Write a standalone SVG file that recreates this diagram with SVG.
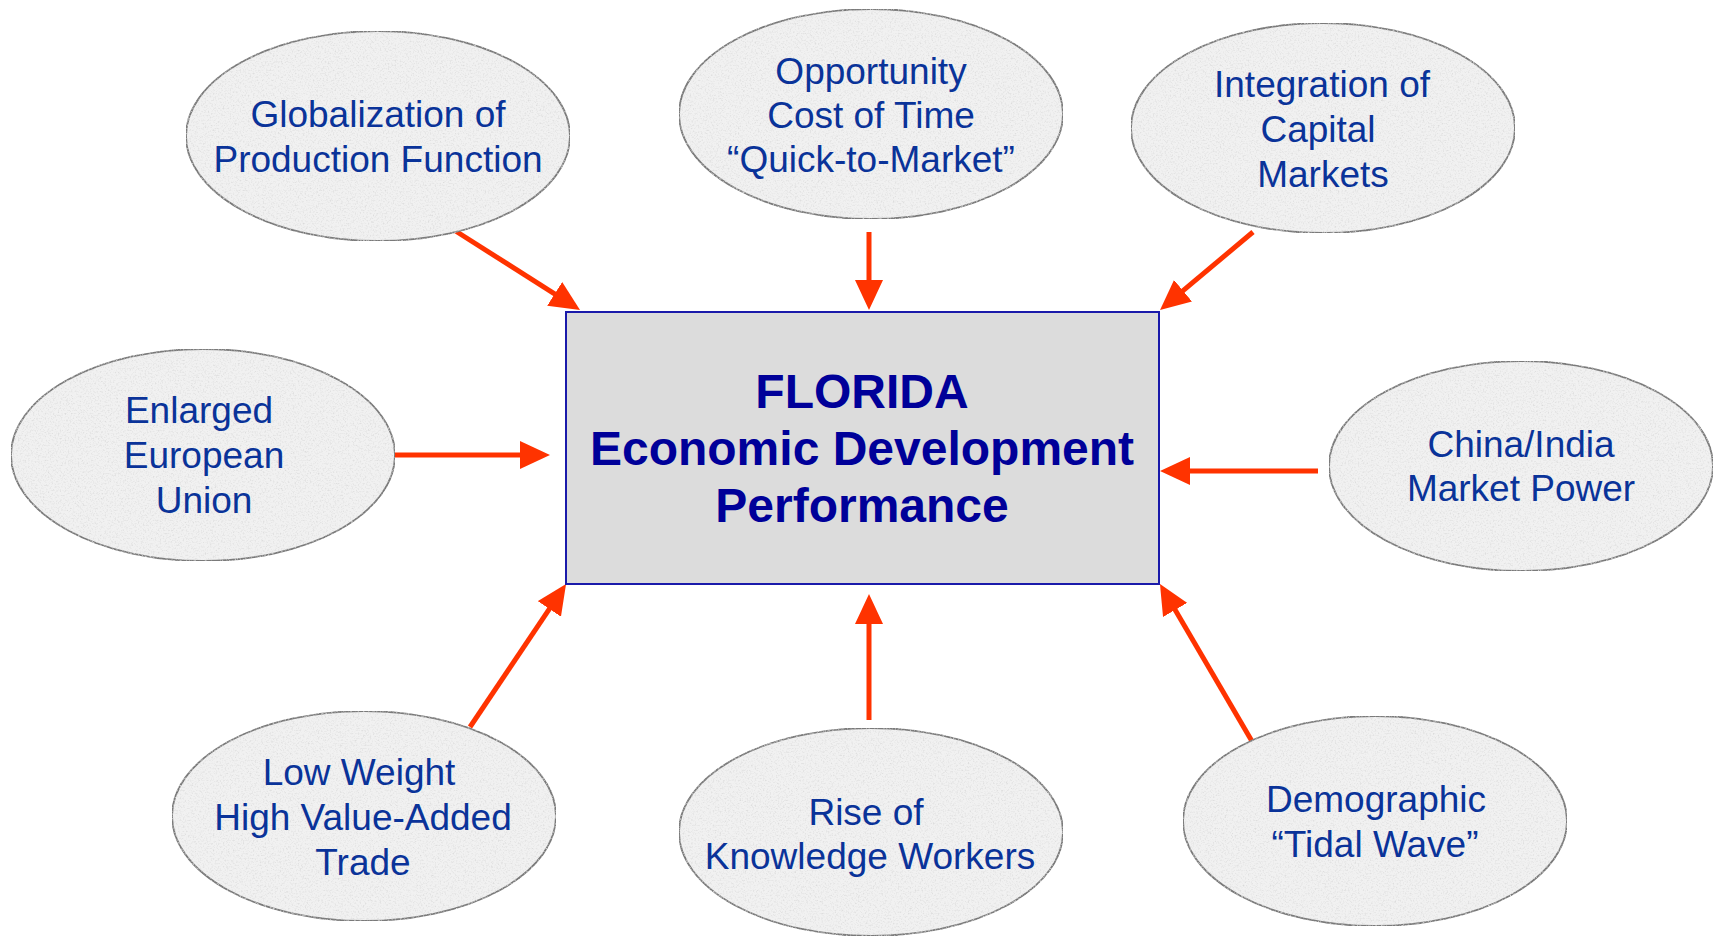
<svg xmlns="http://www.w3.org/2000/svg" width="1717" height="937" viewBox="0 0 1717 937">
<style>
.oval{fill:#f1f1f1;stroke:#7a7a7a;stroke-width:1.8;filter:url(#granite)}
.lbl{font-family:"Liberation Sans",Arial,sans-serif;font-size:37px;fill:#0a3399;text-anchor:middle}
.title{font-family:"Liberation Sans",Arial,sans-serif;font-size:48px;font-weight:bold;fill:#000099;text-anchor:middle}
.arr{stroke:#ff3300;stroke-width:5;fill:none;marker-end:url(#head)}
</style>
<defs>
<filter id="granite" x="0" y="0" width="1" height="1">
<feTurbulence type="fractalNoise" baseFrequency="0.6" numOctaves="3" seed="7" result="n"/>
<feColorMatrix in="n" type="matrix" values="0 0 0 0 0.7  0 0 0 0 0.7  0 0 0 0 0.7  2.2 0 0 0 -1.05" result="spots"/>
<feComposite in="spots" in2="SourceGraphic" operator="atop"/>
</filter>
<marker id="head" markerUnits="userSpaceOnUse" markerWidth="30" markerHeight="28" refX="5" refY="14" orient="auto">
<path d="M0,0 L30,14 L0,28 z" fill="#ff3300"/>
</marker>
</defs>
<rect width="1717" height="937" fill="#ffffff"/>

<g id="connectors">
<line class="arr" x1="454" y1="230" x2="558.9" y2="296.6"/>
<line class="arr" x1="869" y1="232" x2="869" y2="285"/>
<line class="arr" x1="1253" y1="232" x2="1179.2" y2="293.9"/>
<line class="arr" x1="391" y1="455" x2="525" y2="455"/>
<line class="arr" x1="1318" y1="471" x2="1185" y2="471"/>
<line class="arr" x1="470" y1="727" x2="552.1" y2="604.8"/>
<line class="arr" x1="869" y1="720" x2="869" y2="619"/>
<line class="arr" x1="1253" y1="743" x2="1172.6" y2="605.6"/>
</g>

<g id="center">
<rect x="566" y="312" width="593" height="272" fill="#dcdcdc" stroke="#1a1aaa" stroke-width="2"/>
<text class="title" x="862" y="408">FLORIDA</text>
<text class="title" x="862" y="465">Economic Development</text>
<text class="title" x="862" y="522">Performance</text>
</g>

<g id="globalization">
<ellipse class="oval" cx="378" cy="136" rx="192" ry="105"/>
<text class="lbl" x="378" y="127">Globalization of</text>
<text class="lbl" x="378" y="172">Production Function</text>
</g>

<g id="opportunity">
<ellipse class="oval" cx="871" cy="114" rx="192" ry="105"/>
<text class="lbl" x="871" y="84">Opportunity</text>
<text class="lbl" x="871" y="128">Cost of Time</text>
<text class="lbl" x="871" y="172">“Quick-to-Market”</text>
</g>

<g id="integration">
<ellipse class="oval" cx="1323" cy="128" rx="192" ry="105"/>
<text class="lbl" x="1322" y="97">Integration of</text>
<text class="lbl" x="1318" y="142">Capital</text>
<text class="lbl" x="1323" y="187">Markets</text>
</g>

<g id="european">
<ellipse class="oval" cx="203" cy="455" rx="192" ry="106"/>
<text class="lbl" x="199" y="423">Enlarged</text>
<text class="lbl" x="204" y="468">European</text>
<text class="lbl" x="204" y="513">Union</text>
</g>

<g id="china">
<ellipse class="oval" cx="1521" cy="466" rx="192" ry="105"/>
<text class="lbl" x="1521" y="457">China/India</text>
<text class="lbl" x="1521" y="501">Market Power</text>
</g>

<g id="lowweight">
<ellipse class="oval" cx="364" cy="816" rx="192" ry="105"/>
<text class="lbl" x="359" y="785">Low Weight</text>
<text class="lbl" x="363" y="830">High Value-Added</text>
<text class="lbl" x="363" y="875">Trade</text>
</g>

<g id="knowledge">
<ellipse class="oval" cx="871" cy="832" rx="192" ry="104"/>
<text class="lbl" x="866" y="825">Rise of</text>
<text class="lbl" x="870" y="869">Knowledge Workers</text>
</g>

<g id="demographic">
<ellipse class="oval" cx="1375" cy="821" rx="192" ry="105"/>
<text class="lbl" x="1376" y="812">Demographic</text>
<text class="lbl" x="1375" y="857">“Tidal Wave”</text>
</g>
</svg>
